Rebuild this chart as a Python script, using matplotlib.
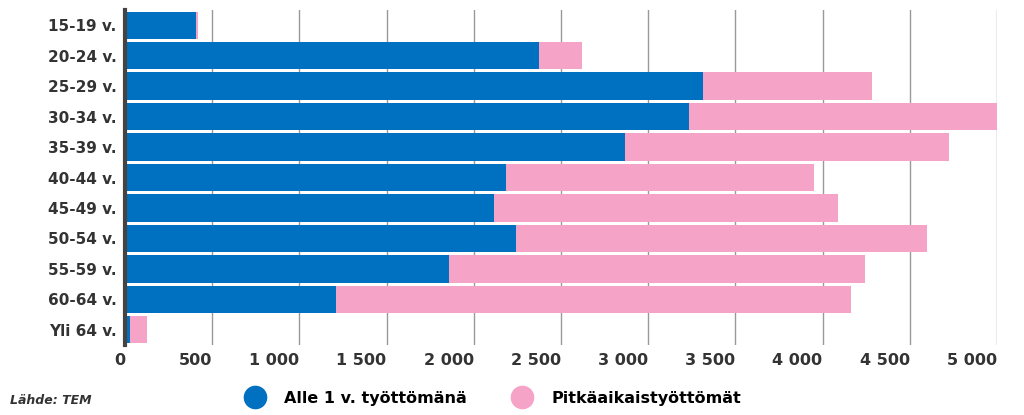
import matplotlib
matplotlib.use("Agg")
import matplotlib.pyplot as plt
from matplotlib.lines import Line2D

categories = ["15-19 v.", "20-24 v.", "25-29 v.", "30-34 v.", "35-39 v.", "40-44 v.",
              "45-49 v.", "50-54 v.", "55-59 v.", "60-64 v.", "Yli 64 v."]
alle1 = [407, 2373, 3313, 3233, 2866, 2184, 2115, 2241, 1857, 1210, 29]
pitka = [12, 247, 969, 1772, 1858, 1766, 1973, 2357, 2385, 2952, 97]
ticks = [0, 500, 1000, 1500, 2000, 2500, 3000, 3500, 4000, 4500, 5000]
tick_labels = ["0", "500", "1 000", "1 500", "2 000", "2 500", "3 000", "3 500", "4 000", "4 500", "5 000"]

blue = "#0070C0"
pink = "#F5A3C7"

fig = plt.figure(figsize=(10.24, 4.15), dpi=100)
ax = fig.add_axes([125/1024, 1-345/415, 872/1024, 335/415])
y = list(range(len(categories)))
ax.barh(y, alle1, height=0.9, color=blue)
ax.barh(y, pitka, left=alle1, height=0.9, color=pink)
ax.set_ylim(len(categories)-0.5, -0.5)
ax.set_xlim(0, 5000)
ax.set_yticks(y)
ax.set_yticklabels(categories, fontsize=11, fontweight="bold", color="#333333")
ax.set_xticks(ticks)
ax.set_xticklabels(tick_labels, fontsize=11.5, fontweight="bold", color="#333333", ha="right")
ax.tick_params(length=0, pad=6)
ax.grid(axis="x", color="#999999", linewidth=1)
ax.set_axisbelow(True)
for s in ["top", "right", "bottom"]:
    ax.spines[s].set_visible(False)
ax.spines["left"].set_linewidth(3)
ax.spines["left"].set_color("#444444")

fig.text(10/1024, 1-400/415, "Lähde: TEM", fontsize=9, style="italic", fontweight="bold",
         color="#333333", va="center")
handles = [Line2D([], [], marker="o", linestyle="", markersize=16, color=blue),
           Line2D([], [], marker="o", linestyle="", markersize=16, color=pink)]
fig.legend(handles, ["Alle 1 v. työttömänä", "Pitkäaikaistyöttömät"], loc="center",
           bbox_to_anchor=(490/1024, 1-398/415), ncol=2, frameon=False,
           prop={"size": 11.5, "weight": "bold"}, columnspacing=2.5, handletextpad=0.8)
fig.savefig("out.png", dpi=100)
